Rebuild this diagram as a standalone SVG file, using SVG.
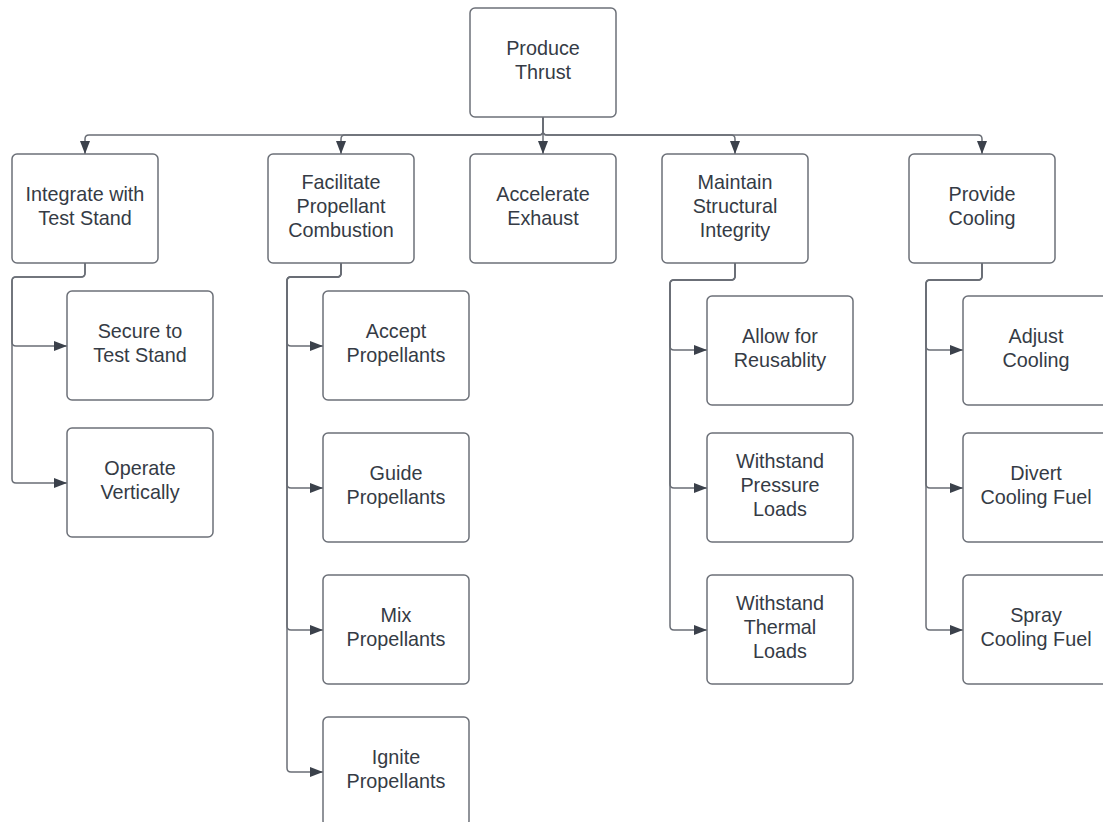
<svg xmlns="http://www.w3.org/2000/svg" width="1103" height="822" viewBox="0 0 1103 822">
<defs>
<marker id="arr" markerUnits="userSpaceOnUse" markerWidth="14" markerHeight="11" refX="13" refY="5.5" orient="auto">
<path d="M0,0.5 L13,5.5 L0,10.5 z" fill="#3b414b"/>
</marker>
<style>
.box{fill:#ffffff;stroke:#6c7078;stroke-width:1.5}
.t{font-family:"Liberation Sans",Arial,sans-serif;font-size:19.8px;fill:#353b45;text-anchor:middle}
.c{fill:none;stroke:#6a6e76;stroke-width:1.5;marker-end:url(#arr)}
</style>
</defs>
<rect width="1103" height="822" fill="#ffffff"/>
<g id="connectors">
<path class="c" d="M543,117 V154"/>
<path class="c" d="M543,117 V131 Q543,135 539,135 H89 Q85,135 85,139 V154"/>
<path class="c" d="M543,117 V131 Q543,135 539,135 H345 Q341,135 341,139 V154"/>
<path class="c" d="M543,117 V131 Q543,135 547,135 H731 Q735,135 735,139 V154"/>
<path class="c" d="M543,117 V131 Q543,135 547,135 H978 Q982,135 982,139 V154"/>
<path class="c" d="M85,263 V273 Q85,277 81,277 H16 Q12,277 12,281 V342 Q12,346 16,346 H67"/>
<path class="c" d="M85,263 V273 Q85,277 81,277 H16 Q12,277 12,281 V479 Q12,483 16,483 H67"/>
<path class="c" d="M341,263 V273 Q341,277 337,277 H291 Q287,277 287,281 V342 Q287,346 291,346 H323"/>
<path class="c" d="M341,263 V273 Q341,277 337,277 H291 Q287,277 287,281 V484 Q287,488 291,488 H323"/>
<path class="c" d="M341,263 V273 Q341,277 337,277 H291 Q287,277 287,281 V626 Q287,630 291,630 H323"/>
<path class="c" d="M341,263 V273 Q341,277 337,277 H291 Q287,277 287,281 V768 Q287,772 291,772 H323"/>
<path class="c" d="M735,263 V276 Q735,280 731,280 H674 Q670,280 670,284 V346 Q670,350 674,350 H707"/>
<path class="c" d="M735,263 V276 Q735,280 731,280 H674 Q670,280 670,284 V484 Q670,488 674,488 H707"/>
<path class="c" d="M735,263 V276 Q735,280 731,280 H674 Q670,280 670,284 V626 Q670,630 674,630 H707"/>
<path class="c" d="M982,263 V276 Q982,280 978,280 H930 Q926,280 926,284 V346 Q926,350 930,350 H963"/>
<path class="c" d="M982,263 V276 Q982,280 978,280 H930 Q926,280 926,284 V484 Q926,488 930,488 H963"/>
<path class="c" d="M982,263 V276 Q982,280 978,280 H930 Q926,280 926,284 V626 Q926,630 930,630 H963"/>
</g>
<g id="produce-thrust"><rect class="box" x="470" y="8" width="146" height="109" rx="5"/><text class="t" x="543" y="55">Produce</text><text class="t" x="543" y="79">Thrust</text></g>
<g id="integrate"><rect class="box" x="12" y="154" width="146" height="109" rx="5"/><text class="t" x="85" y="201">Integrate with</text><text class="t" x="85" y="225">Test Stand</text></g>
<g id="facilitate"><rect class="box" x="268" y="154" width="146" height="109" rx="5"/><text class="t" x="341" y="189">Facilitate</text><text class="t" x="341" y="213">Propellant</text><text class="t" x="341" y="237">Combustion</text></g>
<g id="accelerate"><rect class="box" x="470" y="154" width="146" height="109" rx="5"/><text class="t" x="543" y="201">Accelerate</text><text class="t" x="543" y="225">Exhaust</text></g>
<g id="maintain"><rect class="box" x="662" y="154" width="146" height="109" rx="5"/><text class="t" x="735" y="189">Maintain</text><text class="t" x="735" y="213">Structural</text><text class="t" x="735" y="237">Integrity</text></g>
<g id="cooling"><rect class="box" x="909" y="154" width="146" height="109" rx="5"/><text class="t" x="982" y="201">Provide</text><text class="t" x="982" y="225">Cooling</text></g>
<g id="secure"><rect class="box" x="67" y="291" width="146" height="109" rx="5"/><text class="t" x="140" y="338">Secure to</text><text class="t" x="140" y="362">Test Stand</text></g>
<g id="operate"><rect class="box" x="67" y="428" width="146" height="109" rx="5"/><text class="t" x="140" y="475">Operate</text><text class="t" x="140" y="499">Vertically</text></g>
<g id="accept"><rect class="box" x="323" y="291" width="146" height="109" rx="5"/><text class="t" x="396" y="338">Accept</text><text class="t" x="396" y="362">Propellants</text></g>
<g id="guide"><rect class="box" x="323" y="433" width="146" height="109" rx="5"/><text class="t" x="396" y="480">Guide</text><text class="t" x="396" y="504">Propellants</text></g>
<g id="mix"><rect class="box" x="323" y="575" width="146" height="109" rx="5"/><text class="t" x="396" y="622">Mix</text><text class="t" x="396" y="646">Propellants</text></g>
<g id="ignite"><rect class="box" x="323" y="717" width="146" height="109" rx="5"/><text class="t" x="396" y="764">Ignite</text><text class="t" x="396" y="788">Propellants</text></g>
<g id="allow"><rect class="box" x="707" y="296" width="146" height="109" rx="5"/><text class="t" x="780" y="343">Allow for</text><text class="t" x="780" y="367">Reusablity</text></g>
<g id="pressure"><rect class="box" x="707" y="433" width="146" height="109" rx="5"/><text class="t" x="780" y="468">Withstand</text><text class="t" x="780" y="492">Pressure</text><text class="t" x="780" y="516">Loads</text></g>
<g id="thermal"><rect class="box" x="707" y="575" width="146" height="109" rx="5"/><text class="t" x="780" y="610">Withstand</text><text class="t" x="780" y="634">Thermal</text><text class="t" x="780" y="658">Loads</text></g>
<g id="adjust"><rect class="box" x="963" y="296" width="146" height="109" rx="5"/><text class="t" x="1036" y="343">Adjust</text><text class="t" x="1036" y="367">Cooling</text></g>
<g id="divert"><rect class="box" x="963" y="433" width="146" height="109" rx="5"/><text class="t" x="1036" y="480">Divert</text><text class="t" x="1036" y="504">Cooling Fuel</text></g>
<g id="spray"><rect class="box" x="963" y="575" width="146" height="109" rx="5"/><text class="t" x="1036" y="622">Spray</text><text class="t" x="1036" y="646">Cooling Fuel</text></g>
</svg>
